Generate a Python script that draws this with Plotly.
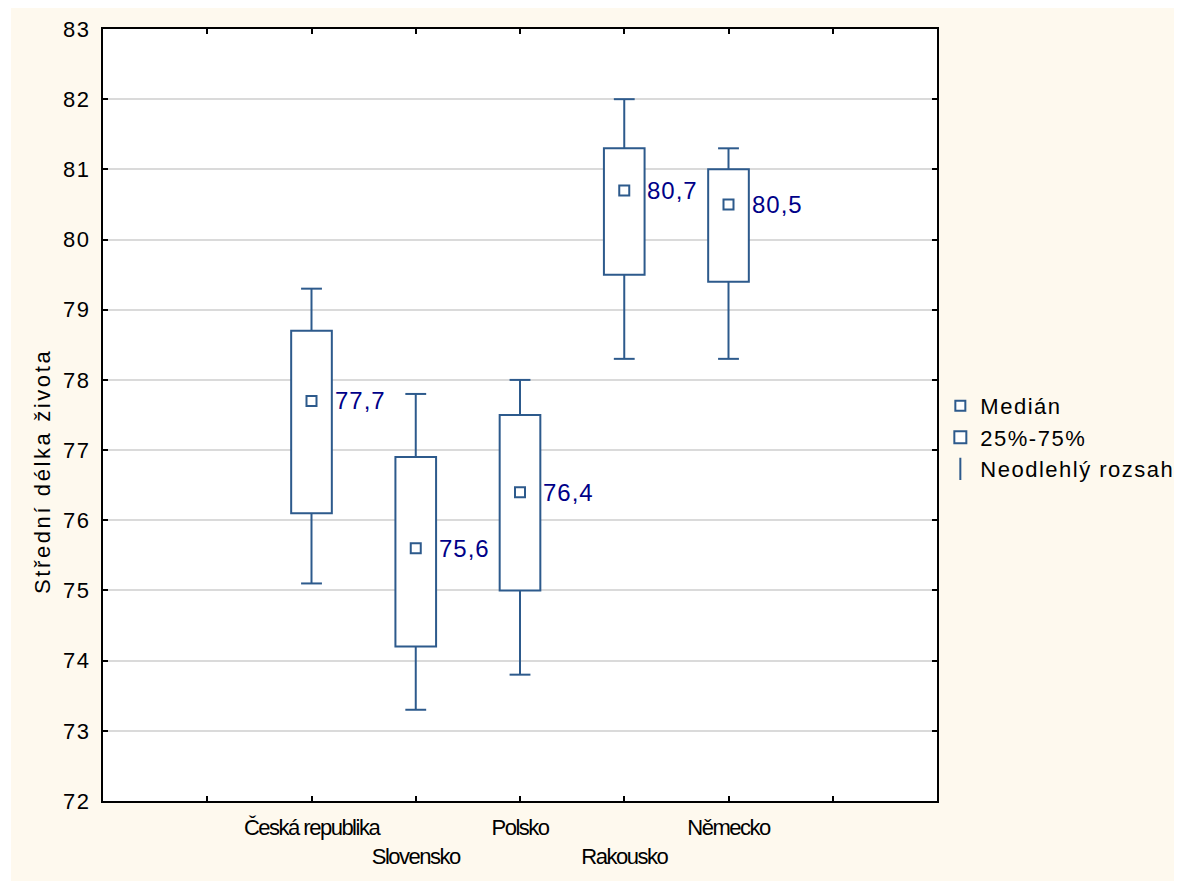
import plotly.graph_objects as go

# ---- data ----
countries = ["Česká republika", "Slovensko", "Polsko", "Rakousko", "Německo"]
upper_whisker = [79.3, 77.8, 78.0, 82.0, 81.3]
q3 = [78.7, 76.9, 77.5, 81.3, 81.0]
median = [77.7, 75.6, 76.4, 80.7, 80.5]
q1 = [76.1, 74.2, 75.0, 79.5, 79.4]
lower_whisker = [75.1, 73.3, 73.8, 78.3, 78.3]
legend_labels = ["Medián", "25%-75%", "Neodlehlý rozsah"]
y_title = "Střední délka života"

# ---- style ----
BLUE = "#2D5A8C"
NAVY = "#000088"
CREAM = "#FEF9EE"
FONT = "Liberation Sans, Arial, sans-serif"
BOX_W = 0.39
CAP_HALF = 0.1


def spaced(text, px):
    return f'<span style="letter-spacing:{px}px">{text}</span>'


pos = list(range(len(countries)))
box_height = [b - a for a, b in zip(q1, q3)]

fig = go.Figure()

# interquartile boxes
fig.add_trace(go.Bar(
    x=pos, base=q1, y=box_height, width=BOX_W,
    marker=dict(color="white", line=dict(color=BLUE, width=2)),
    name=spaced(legend_labels[1], 1.5), showlegend=True, legendrank=2,
    hoverinfo="skip",
))

# whisker stems
stem_x, stem_y = [], []
for i in pos:
    stem_x += [i, i, None, i, i, None]
    stem_y += [q3[i], upper_whisker[i], None, q1[i], lower_whisker[i], None]
fig.add_trace(go.Scatter(
    x=stem_x, y=stem_y, mode="lines", line=dict(color=BLUE, width=2),
    showlegend=False, hoverinfo="skip",
))

# whisker caps
fig.add_trace(go.Scatter(
    x=pos + pos, y=upper_whisker + lower_whisker, mode="markers",
    marker=dict(size=1, color="rgba(0,0,0,0)"),
    error_x=dict(type="constant", value=CAP_HALF, width=0,
                 thickness=2, color=BLUE),
    showlegend=False, hoverinfo="skip",
))

# median markers
fig.add_trace(go.Scatter(
    x=pos, y=median, mode="markers",
    marker=dict(symbol="square", size=10, color="white",
                line=dict(color=BLUE, width=2)),
    name=spaced(legend_labels[0], 1.5), showlegend=True, legendrank=1,
))

# legend-only whisker item
fig.add_trace(go.Scatter(
    x=[None], y=[None], mode="markers",
    marker=dict(symbol="line-ns-open", size=24, color=BLUE,
                line=dict(color=BLUE, width=2)),
    name=spaced(legend_labels[2], 1.5), showlegend=True, legendrank=3,
))

# median value labels
for i, m in enumerate(median):
    fig.add_annotation(
        x=pos[i], y=m, text=spaced(f"{m:.1f}".replace(".", ","), 1),
        showarrow=False, xanchor="left", yanchor="middle", xshift=21,
        font=dict(family=FONT, size=24, color=NAVY),
    )

# y-axis title
fig.add_annotation(
    xref="paper", yref="paper", x=(42 - 103) / 834, y=(801 - 472) / 772,
    text=spaced(y_title, 2.6), textangle=-90, showarrow=False,
    xanchor="center", yanchor="middle",
    font=dict(family=FONT, size=22, color="black"),
)

# thin white page strip on the left
fig.add_shape(type="rect", xref="paper", yref="paper",
              x0=-0.5, x1=(3 - 95) / 834, y0=-0.5, y1=1.5,
              fillcolor="white", line=dict(width=0), layer="below")

tickvals = [-1] + pos + [len(countries)]
ticktext = [""] + [spaced(c, -1.5) if i % 2 == 0 else "<br>" + spaced(c, -1.5)
                   for i, c in enumerate(countries)] + [""]
ytickvals = list(range(72, 84))
yticktext = [spaced(str(v), 1.5) for v in ytickvals]

fig.update_layout(
    width=1174, height=873,
    margin=dict(l=95, r=245, t=21, b=80, autoexpand=False),
    paper_bgcolor=CREAM, plot_bgcolor="white",
    font=dict(family=FONT, color="black"),
    showlegend=True, barmode="overlay",
    legend=dict(x=1.004, y=0.539, xanchor="left", yanchor="top",
                bgcolor="rgba(0,0,0,0)", font=dict(family=FONT, size=22),
                itemwidth=30, tracegroupgap=0),
    xaxis=dict(
        range=[-2, 6], tickvals=tickvals, ticktext=ticktext, tickangle=0,
        showgrid=False, zeroline=False, automargin=False,
        ticks="inside", ticklen=5, tickwidth=1.5, tickcolor="black",
        showline=True, linecolor="black", linewidth=2, mirror="ticks",
        tickfont=dict(family=FONT, size=22), ticklabelstandoff=6,
    ),
    yaxis=dict(
        range=[72, 83], tickvals=ytickvals, ticktext=yticktext,
        showgrid=True, gridcolor="#DADADA", gridwidth=1.5, zeroline=False,
        automargin=False,
        ticks="inside", ticklen=5, tickwidth=1.5, tickcolor="black",
        showline=True, linecolor="black", linewidth=2, mirror="ticks",
        tickfont=dict(family=FONT, size=22), ticklabelstandoff=6,
    ),
)

fig.write_html("out.html")
